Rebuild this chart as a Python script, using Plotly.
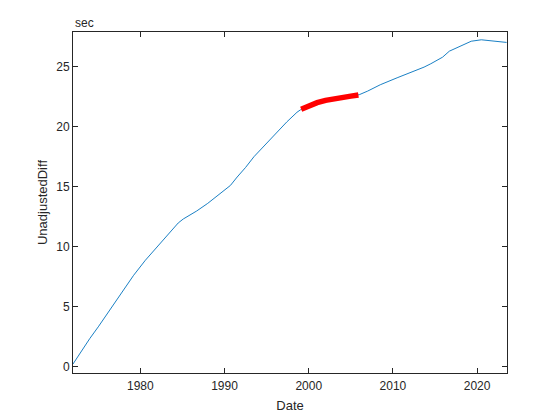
import plotly.graph_objects as go

# Data (decimal years, seconds)
years = [1972.0, 1973.0, 1974.0, 1975.0, 1976.4, 1977.5, 1979.2, 1980.6, 1982.0,
         1983.5, 1984.5, 1985.1, 1986.7, 1988.0, 1989.1, 1989.5, 1990.7, 1991.5,
         1992.5, 1993.5, 1994.5, 1995.5, 1996.5, 1997.4, 1998.6, 1999.0, 2000.0,
         2001.0, 2002.0, 2003.0, 2004.0, 2005.0, 2006.0, 2007.0, 2008.5, 2010.5,
         2012.5, 2013.7, 2014.5, 2015.2, 2015.9, 2016.7, 2017.9, 2019.3, 2020.5,
         2022.0, 2023.5]
diff_sec = [0.2, 1.28, 2.33, 3.3, 4.7, 5.85, 7.6, 8.86, 10.0,
            11.2, 11.97, 12.3, 12.97, 13.6, 14.2, 14.4, 15.1, 15.8,
            16.6, 17.5, 18.25, 19.0, 19.75, 20.4, 21.2, 21.4, 21.75,
            22.0, 22.2, 22.35, 22.45, 22.55, 22.67, 22.97, 23.5, 24.08,
            24.6, 24.97, 25.25, 25.5, 25.8, 26.3, 26.7, 27.13, 27.25,
            27.15, 27.03]

red_years = [1999.1, 2000.0, 2001.0, 2002.0, 2003.0, 2004.0, 2005.0, 2005.9]
red_diff = [21.45, 21.75, 22.0, 22.2, 22.35, 22.45, 22.55, 22.65]

x_ticks = [1980, 1990, 2000, 2010, 2020]
y_ticks = [0, 5, 10, 15, 20, 25]

FONT = "Liberation Sans, Arial"
fig = go.Figure()
fig.add_trace(go.Scatter(x=years, y=diff_sec, mode="lines",
                         line=dict(color="#0072BD", width=0.9), showlegend=False))
fig.add_trace(go.Scatter(x=red_years, y=red_diff, mode="lines",
                         line=dict(color="#FF0000", width=5.5), showlegend=False))

axis_common = dict(showline=True, linecolor="#262626", linewidth=1, mirror="ticks",
                   ticks="inside", ticklen=5, tickcolor="#262626", showgrid=False,
                   zeroline=False, automargin=False,
                   tickfont=dict(family=FONT, size=12, color="#262626"))

fig.update_xaxes(range=[1972.0, 2023.55], tickvals=x_ticks, ticklabelstandoff=2,
                 title=dict(text="Date", font=dict(family=FONT, size=13, color="#262626"), standoff=8),
                 **axis_common)
fig.update_yaxes(range=[-0.55, 27.9], tickvals=y_ticks,
                 title=dict(text="UnadjustedDiff", font=dict(family=FONT, size=13, color="#262626"), standoff=5),
                 **axis_common)

fig.add_annotation(text="sec", xref="paper", yref="paper", x=0, y=1, xanchor="left", yanchor="bottom",
                   showarrow=False, yshift=0, font=dict(family=FONT, size=12, color="#262626"))

fig.update_layout(width=560, height=420, margin=dict(l=73, r=53, t=31.5, b=47, autoexpand=False),
                  paper_bgcolor="white", plot_bgcolor="white")

fig.write_html("out.html", config={"displayModeBar": False},
               post_script="document.body.style.margin='0';document.body.style.overflow='hidden';")
